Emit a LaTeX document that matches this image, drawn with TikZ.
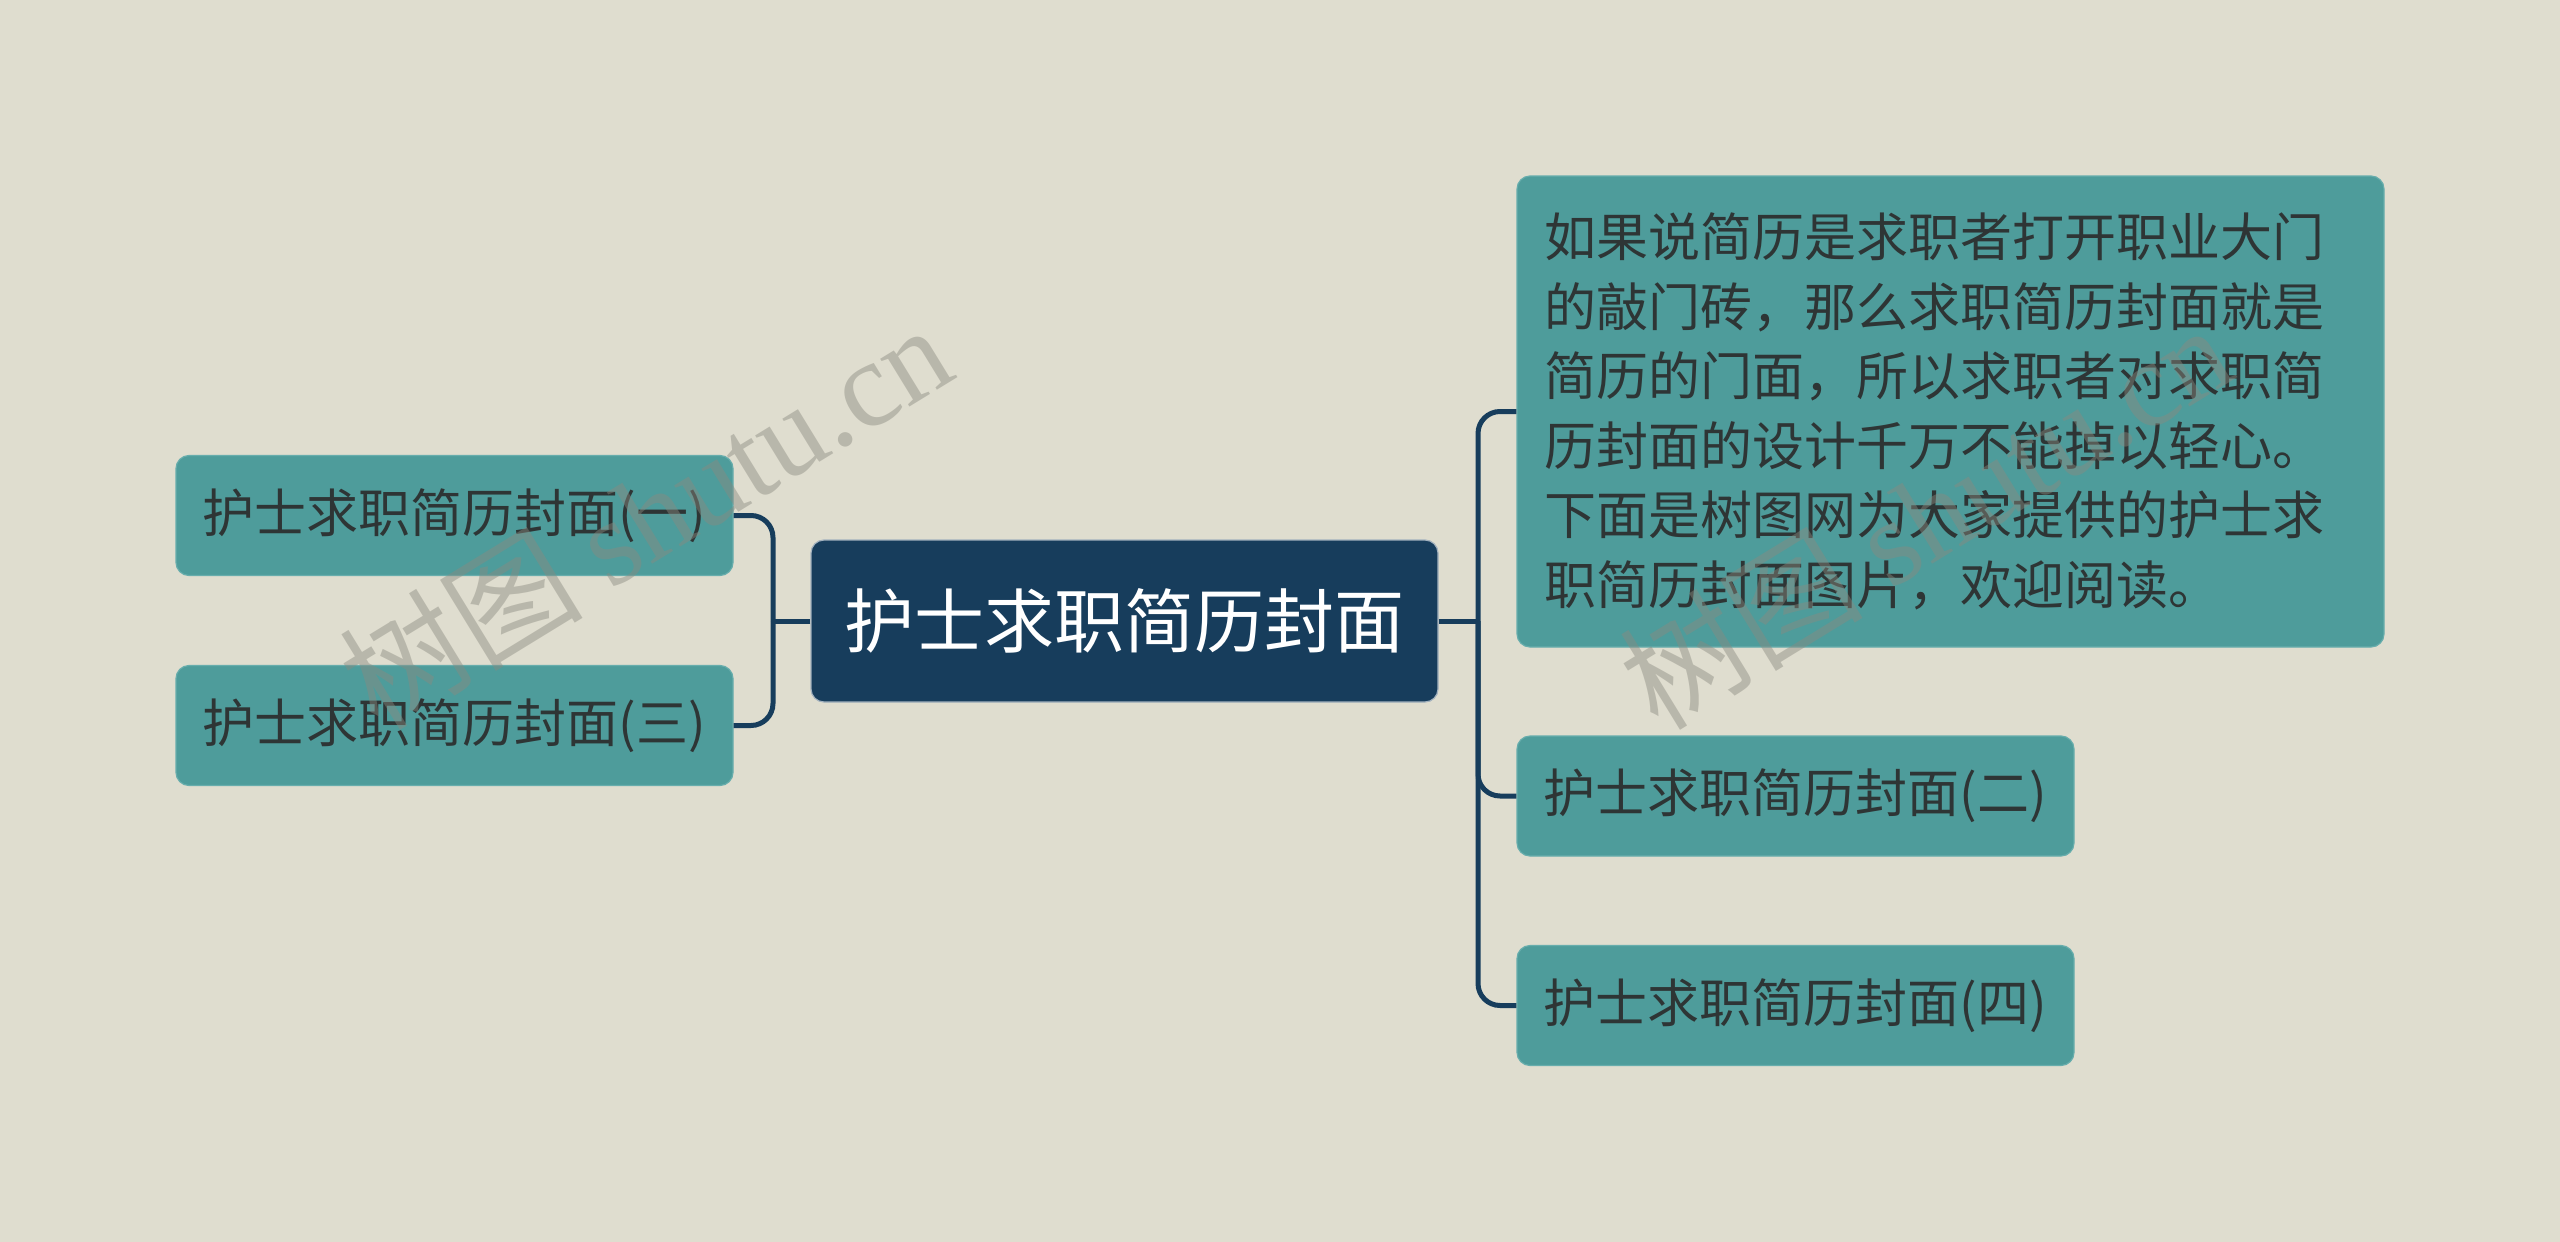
\documentclass[tikz,border=0pt]{standalone}
\usepackage{fontspec}
\newfontfamily\cjk{Noto Sans CJK SC}
\newfontfamily\wmlatin{Liberation Serif}
\definecolor{bgc}{HTML}{DFDDCF}
\definecolor{tealc}{HTML}{4E9C9B}
\definecolor{tealedge}{HTML}{67ADAC}
\definecolor{navyc}{HTML}{173D5C}
\definecolor{txtc}{HTML}{2E3535}
\definecolor{wmc}{HTML}{8A8A80}
\tikzset{
  leaf/.style={draw=tealedge, line width=1.2pt, fill=tealc, rounded corners=13pt,
    text=txtc, font=\cjk\fontsize{52}{69.5}\selectfont, inner sep=0pt,
    minimum width=557pt, minimum height=120pt},
  bignode/.style={draw=tealedge, line width=1.2pt, fill=tealc, rounded corners=13pt,
    text=txtc, font=\cjk\fontsize{52}{69.5}\selectfont, inner xsep=27pt, inner ysep=0pt,
    text width=813pt, align=left, minimum height=471pt},
  rootnode/.style={draw=white!60!navyc, line width=1.2pt, fill=navyc, rounded corners=13pt,
    text=white, font=\cjk\fontsize{70}{84}\selectfont, inner sep=0pt,
    minimum width=627pt, minimum height=162pt},
  conn/.style={draw=navyc, line width=5pt},
  connr/.style={conn, rounded corners=22pt},
  wmark/.style={text=wmc, text opacity=0.45, rotate=31.5, inner sep=0pt}
}
\begin{document}
\begin{tikzpicture}[x=1pt, y=-1pt]
\useasboundingbox[fill=bgc] (0,0) rectangle (2560,1242);
% nodes
\node[rootnode] (root) at (1124.5,621) {护士求职简历封面};
\node[leaf] (l1) at (454.5,515.5) {护士求职简历封面(一)};
\node[leaf] (l3) at (454.5,725.5) {护士求职简历封面(三)};
\node[bignode] (big) at (1950.5,411.5) {如果说简历是求职者打开职业大门\\的敲门砖，那么求职简历封面就是\\简历的门面，所以求职者对求职简\\历封面的设计千万不能掉以轻心。\\下面是树图网为大家提供的护士求\\职简历封面图片，欢迎阅读。};
\node[leaf] (r2) at (1795.5,796) {护士求职简历封面(二)};
\node[leaf] (r4) at (1795.5,1005.5) {护士求职简历封面(四)};
% junctions
\coordinate (lj) at (773,621);
\coordinate (rj) at (1478,621);
% connectors
\draw[conn] (root.west) -- (lj);
\draw[connr] (lj) |- (l1.east);
\draw[connr] (lj) |- (l3.east);
\draw[conn] (root.east) -- (rj);
\draw[connr] (rj) |- (big.west);
\draw[connr] (rj) |- (r2.west);
\draw[connr] (rj) |- (r4.west);
% watermarks
\node[wmark] (wm1) at (645,515) {\cjk\fontsize{122}{122}\selectfont 树图 \wmlatin shutu.cn};
\node[wmark] (wm2) at (1925,515) {\cjk\fontsize{122}{122}\selectfont 树图 \wmlatin shutu.cn};
\end{tikzpicture}
\end{document}
